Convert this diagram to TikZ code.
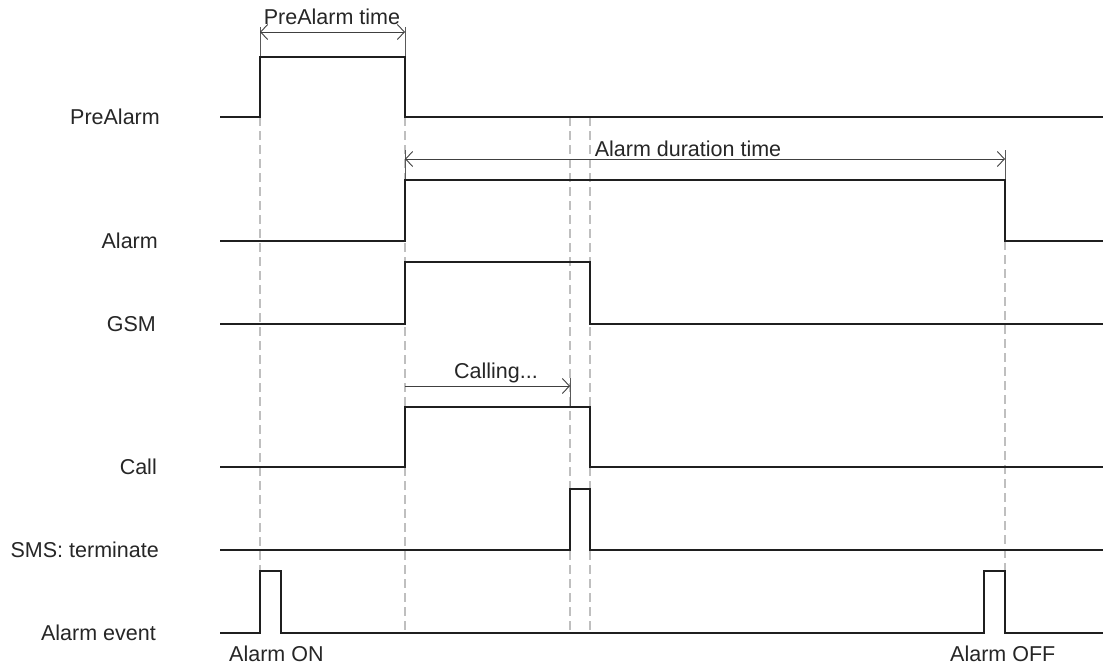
\documentclass[tikz,border=0pt]{standalone}
\usepackage{fontspec}
\setmainfont{Liberation Sans}
\usetikzlibrary{arrows.meta}
\begin{document}
\begin{tikzpicture}[x=1pt,y=-1pt,
  signal/.style={line width=2.9pt,line join=miter,color=black!88},
  guide/.style={line width=1.2pt,color=black!25,dash pattern=on 9pt off 5pt},
  tick/.style={line width=0.8pt,color=black!65},
  dim/.style={line width=0.9pt,color=black!75,{Straight Barb[length=7pt,width=15pt,line width=0.9pt]}-{Straight Barb[length=7pt,width=15pt,line width=0.9pt]}},
  dimr/.style={line width=0.9pt,color=black!75,-{Straight Barb[length=7pt,width=15pt,line width=0.9pt]}},
  lab/.style={font=\fontsize{21.5}{24}\selectfont,text=black!85,inner sep=0pt},
  ]
\useasboundingbox (0,0) rectangle (1103,669);
\fill[white] (0,0) rectangle (1103,669);

% guide lines
\draw[guide] (260,117) -- (260,571);
\draw[guide] (405,117) -- (405,633);
\draw[guide] (570,117) -- (570,633);
\draw[guide] (590,117) -- (590,633);
\draw[guide] (1005,241) -- (1005,571);

% ticks
\draw[tick] (260,27) -- (260,57);
\draw[tick] (405,27) -- (405,57);
\draw[tick] (405,150) -- (405,180);
\draw[tick] (1005,150) -- (1005,180);
\draw[tick] (570,378) -- (570,407);

% dimension coordinates
\coordinate (pa1) at (260,32);
\coordinate (pa2) at (405,32);
\coordinate (ad1) at (405,159);
\coordinate (ad2) at (1005,159);
\coordinate (ca1) at (405,386);
\coordinate (ca2) at (570,386);
\draw[dim] (pa1) -- (pa2);
\draw[dim] (ad1) -- (ad2);
\draw[dimr] (ca1) -- (ca2);
\node[lab,anchor=base] (tpa) at (332,25) {PreAlarm time};
\node[lab,anchor=base] (tad) at (688,156) {Alarm duration time};
\node[lab,anchor=base] (tca) at (496,378) {Calling...};

% signals
\draw[signal] (220,117) -- (260,117) -- (260,57) -- (405,57) -- (405,117) -- (1103,117);
\draw[signal] (220,241) -- (405,241) -- (405,180) -- (1005,180) -- (1005,241) -- (1103,241);
\draw[signal] (220,324) -- (405,324) -- (405,262) -- (590,262) -- (590,324) -- (1103,324);
\draw[signal] (220,467) -- (405,467) -- (405,407) -- (590,407) -- (590,467) -- (1103,467);
\draw[signal] (220,550) -- (570,550) -- (570,489) -- (590,489) -- (590,550) -- (1103,550);
\draw[signal] (220,633) -- (260,633) -- (260,571) -- (281,571) -- (281,633) -- (984,633) -- (984,571) -- (1005,571) -- (1005,633) -- (1103,633);

% labels
\node[lab,anchor=base east] (lpa) at (160,124) {PreAlarm};
\node[lab,anchor=base east] (lal) at (158,248) {Alarm};
\node[lab,anchor=base east] (lgs) at (156,331) {GSM};
\node[lab,anchor=base east] (lca) at (157,474) {Call};
\node[lab,anchor=base east] (lsm) at (159,557) {SMS: terminate};
\node[lab,anchor=base east] (lev) at (156,640) {Alarm event};
\node[lab,anchor=base west] (lon) at (229,661) {Alarm ON};
\node[lab,anchor=base west] (loff) at (950,661) {Alarm OFF};
\end{tikzpicture}
\end{document}
